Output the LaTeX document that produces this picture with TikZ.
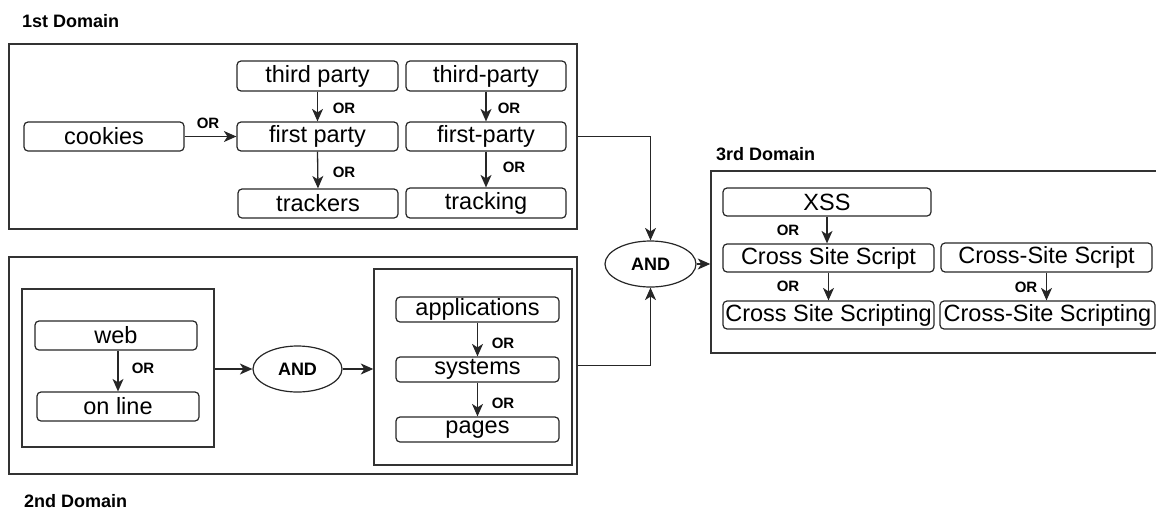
\documentclass[tikz,border=0pt]{standalone}
\usepackage{fontspec}
\setmainfont{Liberation Sans}
\usetikzlibrary{arrows.meta,shapes.geometric,calc}
\begin{document}
\begin{tikzpicture}[x=1pt,y=-1pt,
  container/.style={draw=black!80, line width=1.4pt, inner sep=0pt},
  tbox/.style={draw=black!85, line width=1.2pt, rounded corners=4pt, inner sep=0pt,
    font=\fontsize{23.5}{24}\selectfont},
  gate/.style={ellipse, draw=black!85, line width=1.2pt, inner sep=0pt,
    font=\bfseries\fontsize{18}{20}\selectfont},
  orlabel/.style={font=\bfseries\fontsize{15}{16}\selectfont, inner sep=0pt},
  title/.style={font=\bfseries\fontsize{18}{20}\selectfont, inner sep=0pt, anchor=west},
  conn/.style={draw=black!85, line width=1.3pt},
  arr/.style={conn, -{Stealth[length=12.5pt,width=11pt,inset=3.5pt]}}
]
\useasboundingbox (0,0) rectangle (1156,509);

% domain containers
\node[container, minimum width=568pt, minimum height=185pt] (d1) at (293,136.5) {};
\node[container, minimum width=568pt, minimum height=217pt] (d2) at (293,365.5) {};
\node[container, minimum width=192pt, minimum height=158pt] (il) at (118,368) {};
\node[container, minimum width=198pt, minimum height=196pt] (ir) at (473,367) {};
\node[container, minimum width=455pt, minimum height=182pt] (d3) at (938.5,262) {};

% domain titles
\node[title] (t1) at (22,21) {1st Domain};
\node[title] (t2) at (24,501) {2nd Domain};
\node[title] (t3) at (716,154) {3rd Domain};

% 1st domain terms
\node[tbox, minimum width=160pt, minimum height=29pt] (cookies) at (104,136.5) {cookies};
\node[tbox, minimum width=161pt, minimum height=30pt] (tp1) at (317.5,76) {third party};
\node[tbox, minimum width=161pt, minimum height=29pt] (fp1) at (317.5,136.5) {first party};
\node[tbox, minimum width=160pt, minimum height=29pt] (trk1) at (318,203.5) {trackers};
\node[tbox, minimum width=160pt, minimum height=30pt] (tp2) at (486,76) {third-party};
\node[tbox, minimum width=160pt, minimum height=29pt] (fp2) at (486,136.5) {first-party};
\node[tbox, minimum width=160pt, minimum height=30pt] (trk2) at (486,203) {tracking};

% 2nd domain terms
\node[tbox, minimum width=162pt, minimum height=29pt] (web) at (116,335.5) {web};
\node[tbox, minimum width=162pt, minimum height=29pt] (online) at (118,406.5) {on line};
\node[tbox, minimum width=163pt, minimum height=25pt] (apps) at (477.5,309.5) {applications};
\node[tbox, minimum width=163pt, minimum height=25pt] (sys) at (477.5,369.5) {systems};
\node[tbox, minimum width=163pt, minimum height=25pt] (pages) at (477.5,429.5) {pages};

% 3rd domain terms
\node[tbox, minimum width=208pt, minimum height=28pt] (xss) at (827,202) {XSS};
\node[tbox, minimum width=211pt, minimum height=28pt] (css) at (828.5,258) {Cross Site Script};
\node[tbox, minimum width=211pt, minimum height=28pt] (cssing) at (828.5,315) {Cross Site Scripting};
\node[tbox, minimum width=211pt, minimum height=29pt] (css2) at (1046.5,257.5) {Cross-Site Script};
\node[tbox, minimum width=215pt, minimum height=28pt] (cssing2) at (1047.5,315) {Cross-Site Scripting};

% gates
\node[gate, minimum width=91pt, minimum height=46pt] (and1) at (650.5,264) {AND};
\node[gate, minimum width=89pt, minimum height=46pt] (and2) at (297.5,369) {AND};

% 1st domain connectors
\draw[arr] (cookies.east) -- (fp1.west);
\draw[arr] (tp1.south) -- (fp1.north);
\draw[arr] (fp1.south) -- (trk1.north);
\draw[arr] (tp2.south) -- (fp2.north);
\draw[arr] (fp2.south) -- (trk2.north);
\node[orlabel] (or1) at (208,123) {OR};
\node[orlabel] (or2) at (344,108) {OR};
\node[orlabel] (or3) at (344,172) {OR};
\node[orlabel] (or4) at (509,108) {OR};
\node[orlabel] (or5) at (514,167) {OR};

% 2nd domain connectors
\draw[arr] (online.north |- web.south) -- (online.north);
\draw[arr] (apps.south) -- (sys.north);
\draw[arr] (sys.south) -- (pages.north);
\draw[arr] (il.east |- and2.west) -- (and2.west);
\draw[arr] (and2.east) -- (and2.east -| ir.west);
\node[orlabel] (or6) at (143,368) {OR};
\node[orlabel] (or7) at (503,343) {OR};
\node[orlabel] (or8) at (503,403) {OR};

% 3rd domain connectors
\draw[arr] (xss.south) -- (xss.south |- css.north);
\draw[arr] (css.south) -- (cssing.north);
\draw[arr] (css2.south) -- (css2.south |- cssing2.north);
\node[orlabel] (or9) at (788,230) {OR};
\node[orlabel] (or10) at (788,286) {OR};
\node[orlabel] (or11) at (1026,287) {OR};

% domains joined by the AND gate
\draw[arr] (d1.east) -| (and1.north);
\draw[arr] (d2.east) -| (and1.south);
\draw[arr] (and1.east) -- (and1.east -| d3.west);
\end{tikzpicture}
\end{document}
